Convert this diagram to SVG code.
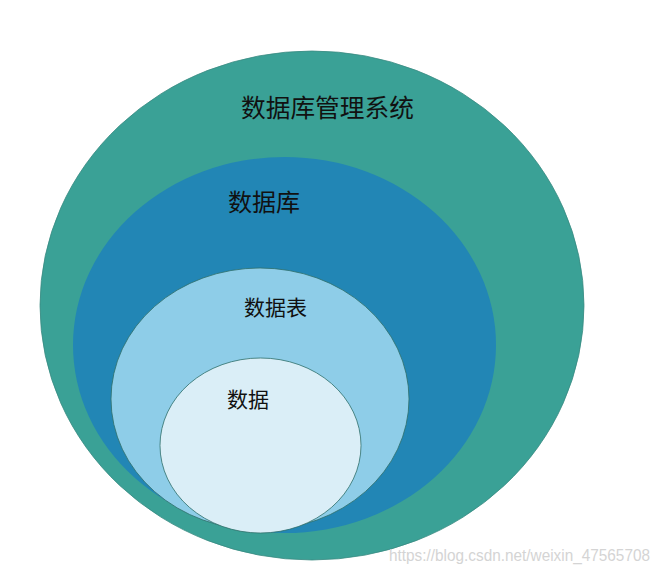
<svg xmlns="http://www.w3.org/2000/svg" width="661" height="574" viewBox="0 0 661 574">
<style>
.lbl{font-family:"Noto Sans CJK SC","Noto Sans",sans-serif;fill:#111}
.e{stroke:#2f6f6a;stroke-width:0.8}
</style>
<rect width="661" height="574" fill="#ffffff"/>
<g id="dbms">
<ellipse cx="312" cy="305.5" rx="272" ry="254.5" fill="#3aa196" stroke="#3a8a82" stroke-width="0.8"/>
<text class="lbl" x="241" y="117" font-size="24.7">数据库管理系统</text>
</g>
<g id="db">
<ellipse cx="284.5" cy="345" rx="211.5" ry="188" fill="#2286b5"/>
<text class="lbl" x="228" y="211" font-size="24">数据库</text>
</g>
<g id="table">
<ellipse class="e" cx="260" cy="399" rx="149" ry="131" fill="#8ecde8"/>
<text class="lbl" x="244" y="315" font-size="21">数据表</text>
</g>
<g id="data">
<ellipse class="e" cx="260.5" cy="445.5" rx="100.5" ry="87.5" fill="#daeef7"/>
<text class="lbl" x="227" y="407" font-size="21">数据</text>
</g>
<g id="connectors"/>
<text x="389" y="561" font-family="Liberation Sans,Arial,sans-serif" font-size="16.5" fill="#d4d4d4" textLength="261" lengthAdjust="spacingAndGlyphs">https://blog.csdn.net/weixin_47565708</text>
</svg>
